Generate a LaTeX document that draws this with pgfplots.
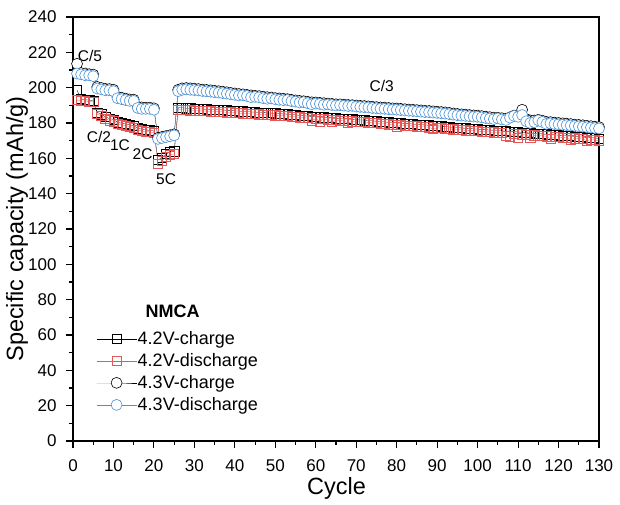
\documentclass[border=0pt]{standalone}
\usepackage{pgfplots}
\pgfplotsset{compat=1.18}
\usepackage{pgfplotstable}
\usepackage{fontspec}
\setmainfont{Liberation Sans}
\definecolor{dred}{RGB}{228,88,88}
\definecolor{dblue}{RGB}{72,145,215}

% cycle, 4.2V charge, 4.2V discharge, 4.3V charge, 4.3V discharge
\pgfplotstableread{
cycle c42 d42 c43 d43
1 198.5 193.0 213.5 208.0
2 193.5 192.5 208.3 207.5
3 193.2 192.5 208.0 207.0
4 192.9 192.0 207.6 207.0
5 192.7 192.0 207.4 206.5
6 186.0 185.0 200.4 199.5
7 185.0 184.0 199.8 199.0
8 183.5 182.5 199.3 198.5
9 182.5 181.5 199.2 198.5
10 182.0 181.0 198.8 198.0
11 180.4 179.5 194.8 194.0
12 179.9 179.0 194.3 193.5
13 179.4 178.5 193.8 193.0
14 178.9 178.0 193.3 192.5
15 178.5 177.5 193.2 192.5
16 177.0 176.0 189.2 188.5
17 176.5 175.5 188.8 188.0
18 176.0 175.0 188.7 188.0
19 175.9 175.0 188.7 188.0
20 175.5 174.5 188.3 187.5
21 159.0 157.0 171.6 171.0
22 160.5 158.5 172.1 171.5
23 162.5 161.0 172.6 172.0
24 163.5 162.0 173.1 172.5
25 164.0 162.5 173.6 173.0
26 188.6 187.5 198.8 198.0
27 188.6 187.5 199.6 198.8
28 188.4 187.3 199.8 199.0
29 188.3 187.2 199.6 198.8
30 188.1 187.0 199.4 198.6
31 188.0 186.9 199.2 198.4
32 187.9 186.8 198.9 198.1
33 187.8 186.7 198.7 197.9
34 187.7 186.6 198.5 197.7
35 187.6 186.5 198.2 197.4
36 187.5 186.4 198.0 197.2
37 187.4 186.3 197.7 196.9
38 187.2 186.1 197.4 196.6
39 187.1 186.0 197.0 196.2
40 186.9 185.8 196.7 195.9
41 186.7 185.6 196.4 195.6
42 186.6 185.5 196.2 195.7
43 186.4 185.3 195.9 195.3
44 186.3 185.2 195.6 194.6
45 186.1 185.0 195.4 194.8
46 186.0 184.9 195.2 194.5
47 185.9 184.8 194.9 194.0
48 185.8 184.7 194.6 193.7
49 185.6 184.5 194.4 193.9
50 185.5 184.4 194.1 193.4
51 185.3 184.2 193.9 193.1
52 185.1 184.0 193.7 192.9
53 185.0 183.9 193.5 193.0
54 184.8 183.7 193.1 192.4
55 184.6 183.5 192.8 192.1
56 184.3 183.2 192.5 191.6
57 184.1 183.0 192.3 191.8
58 183.9 182.8 192.0 191.2
59 183.7 181.5 191.7 190.6
60 183.5 182.4 191.6 191.0
61 183.3 181.0 191.4 190.8
62 183.3 182.2 191.2 190.3
63 182.9 181.8 191.0 190.5
64 182.8 180.5 190.8 190.2
65 182.7 181.6 190.6 189.9
66 182.5 181.4 190.5 190.1
67 182.3 181.2 190.4 189.8
68 182.2 180.0 190.2 189.6
69 182.1 181.0 190.1 189.7
70 181.9 180.8 189.9 189.3
71 181.7 180.6 189.7 189.1
72 181.6 180.5 189.6 188.9
73 181.4 180.3 189.4 188.8
74 181.2 180.1 189.2 188.5
75 181.0 179.9 189.0 188.3
76 180.8 179.7 188.8 188.1
77 180.6 179.5 188.7 188.0
78 180.4 179.3 188.5 187.8
79 180.2 179.1 188.3 187.6
80 180.1 177.8 188.2 187.5
81 179.9 178.8 188.0 187.3
82 179.7 178.6 187.8 187.1
83 179.6 178.5 187.6 186.9
84 179.4 178.3 187.5 186.8
85 179.2 178.1 187.3 186.6
86 179.0 177.9 187.1 186.4
87 178.9 177.8 186.9 186.2
88 178.7 177.6 186.8 186.1
89 178.6 176.5 186.6 185.9
90 178.4 177.3 186.4 185.7
91 178.2 177.1 186.2 185.5
92 178.0 176.9 186.0 185.3
93 177.7 176.6 185.7 185.0
94 177.5 176.4 185.4 184.7
95 177.4 176.3 185.1 184.4
96 177.2 176.1 184.9 184.2
97 177.0 175.9 184.7 184.0
98 176.9 175.8 184.5 183.8
99 176.7 175.6 184.3 183.6
100 176.5 175.4 184.2 183.5
101 176.3 175.2 183.9 183.2
102 176.2 175.1 183.6 182.8
103 176.0 174.9 183.3 182.5
104 175.8 174.7 183.0 182.2
105 175.7 174.6 183.0 182.6
106 175.5 174.4 182.7 182.0
107 175.4 172.8 182.4 181.7
108 175.2 172.5 183.2 183.0
109 175.1 174.0 184.2 184.0
110 174.9 171.8 184.0 183.5
111 174.7 173.6 187.5 184.5
112 174.5 173.4 182.2 181.0
113 174.3 171.5 181.4 180.0
114 174.1 173.0 181.4 180.5
115 174.0 172.9 181.8 181.5
116 173.8 172.7 181.3 180.6
117 173.6 172.5 180.6 179.5
118 173.5 171.0 180.5 179.8
119 173.3 172.2 180.2 179.4
120 173.1 172.0 180.0 179.2
121 172.9 171.8 179.8 179.0
122 172.7 171.6 179.6 178.8
123 172.6 170.5 179.4 178.6
124 172.4 171.3 179.1 178.3
125 172.2 171.1 178.9 178.1
126 172.0 170.9 178.7 177.9
127 171.8 170.0 178.4 177.6
128 171.7 170.6 178.2 177.4
129 171.5 170.4 177.9 177.1
130 171.3 169.8 177.7 176.9
}\data

\begin{document}
\begin{tikzpicture}
\begin{axis}[
    scale only axis,
    width=526pt, height=424pt,
    xmin=0, xmax=130, ymin=0, ymax=240,
    xtick={0,10,...,130}, ytick={0,20,...,240},
    minor x tick num=1, minor y tick num=1,
    tick align=outside, tick pos=left,
    major tick length=7pt, minor tick length=4pt,
    axis line style={line width=1.2pt},
    every tick/.style={black, line width=1.1pt},
    /pgf/number format/assume math mode=true,
    ticklabel style={font=\fontsize{17}{19}\selectfont},
    xticklabel style={yshift=-8pt},
    yticklabel style={xshift=-6pt},
    xlabel={Cycle},
    ylabel={Specific capacity (mAh/g)},
    label style={font=\fontsize{23.5}{26}\selectfont},
    xlabel style={at={(axis description cs:0.501,-0.111)}, anchor=center},
    ylabel style={at={(axis description cs:-0.1065,0.5)}, anchor=center, rotate=0},
    legend style={at={(axis cs:5.0,63.8)}, anchor=north west, draw=none, fill=none,
        font=\fontsize{18}{20}\selectfont, row sep=5.5pt,
        nodes={inner sep=1pt}},
    legend cell align=left,
    legend image code/.code={\draw[mark repeat=2,mark phase=2] plot coordinates {(0pt,0pt)(20pt,0pt)(40pt,0pt)};},
]
\addplot[black, line width=0.3pt, mark=square, mark size=4.6pt, mark options={solid, line width=0.5pt}]
    table[x=cycle, y=c42] {\data};
\addplot[dred, line width=0.3pt, mark=square, mark size=4.6pt, mark options={solid, line width=0.6pt}]
    table[x=cycle, y=d42] {\data};
\addplot[black, line width=0.3pt, mark=*, mark size=5.5pt, mark options={solid, fill=white, line width=0.6pt}]
    table[x=cycle, y=c43] {\data};
\addplot[dblue, line width=0.3pt, mark=*, mark size=5.5pt, mark options={solid, fill=white, line width=0.6pt}]
    table[x=cycle, y=d43] {\data};
\legend{4.2V-charge, 4.2V-discharge, 4.3V-charge, 4.3V-discharge}

\node[font=\fontsize{18}{20}\selectfont\bfseries] at (axis cs:24.6,73.6) {NMCA};
\node[font=\fontsize{15.5}{18}\selectfont] at (axis cs:4.2,218.2) {C/5};
\node[font=\fontsize{15.5}{18}\selectfont] at (axis cs:6.4,172) {C/2};
\node[font=\fontsize{15.5}{18}\selectfont] at (axis cs:11.6,167.5) {1C};
\node[font=\fontsize{15.5}{18}\selectfont] at (axis cs:17.2,162.4) {2C};
\node[font=\fontsize{15.5}{18}\selectfont] at (axis cs:23,148.3) {5C};
\node[font=\fontsize{15.5}{18}\selectfont] at (axis cs:76.3,201) {C/3};
\end{axis}
\pgfresetboundingbox
\path (-73pt,-64pt) rectangle (547pt,441pt);
\end{tikzpicture}
\end{document}
